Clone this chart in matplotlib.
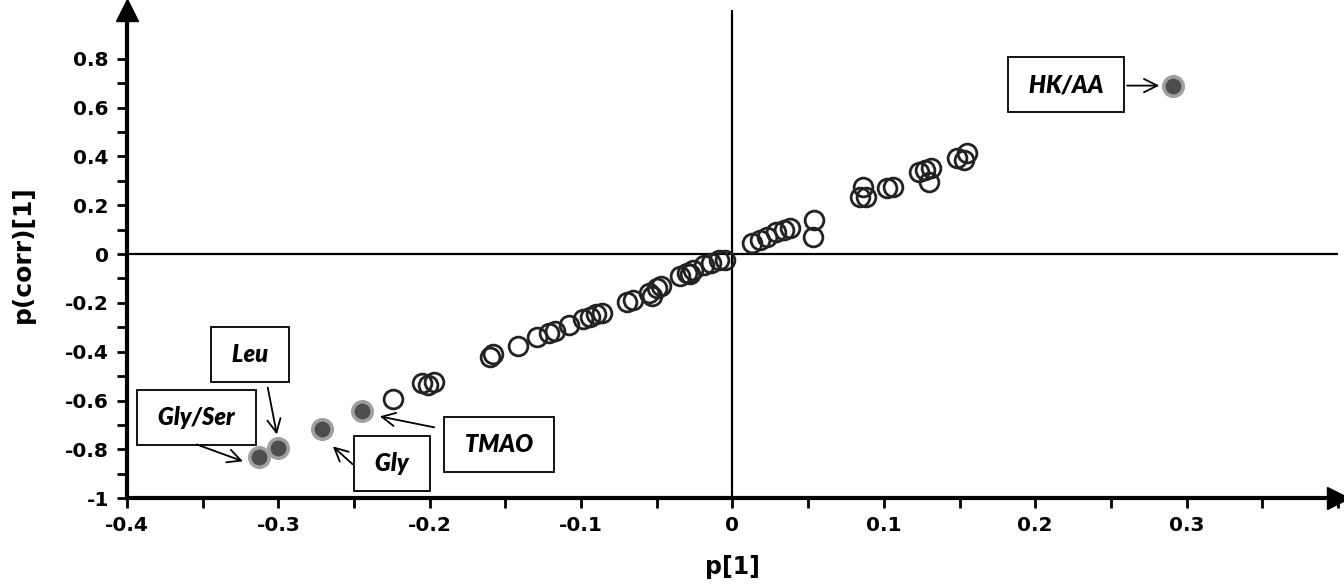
import matplotlib.pyplot as plt
from matplotlib.ticker import MultipleLocator, FuncFormatter

# open circles (all variables)
p1 = [-0.224, -0.205, -0.201, -0.197, -0.160, -0.158, -0.142, -0.129, -0.121, -0.117,
      -0.108, -0.099, -0.094, -0.090, -0.086, -0.070, -0.066, -0.055, -0.053, -0.050,
      -0.047, -0.035, -0.030, -0.028, -0.026, -0.019, -0.014, -0.009, -0.005,
      0.013, 0.018, 0.023, 0.029, 0.034, 0.038, 0.054, 0.053,
      0.084, 0.086, 0.088, 0.102, 0.106, 0.123, 0.127, 0.130, 0.131,
      0.148, 0.153, 0.155]
pcorr1 = [-0.592, -0.530, -0.535, -0.523, -0.420, -0.410, -0.376, -0.340, -0.322, -0.315,
          -0.290, -0.268, -0.257, -0.245, -0.240, -0.198, -0.188, -0.160, -0.170, -0.141,
          -0.132, -0.090, -0.077, -0.082, -0.066, -0.046, -0.036, -0.026, -0.024,
          0.045, 0.057, 0.069, 0.090, 0.098, 0.106, 0.139, 0.069,
          0.233, 0.273, 0.233, 0.269, 0.273, 0.335, 0.343, 0.294, 0.351,
          0.392, 0.384, 0.412]

# highlighted metabolites
names = ['HK/AA', 'TMAO', 'Gly', 'Leu', 'Gly/Ser']
hl_p1 = [0.291, -0.245, -0.271, -0.300, -0.313]
hl_pcorr = [0.690, -0.645, -0.718, -0.796, -0.833]

# label boxes and their arrows (start, end) in data coords
label_xy = [(0.2205, 0.694), (-0.154, -0.780), (-0.225, -0.857), (-0.319, -0.412), (-0.354, -0.669)]
arrow_from = [(0.2607, 0.690), (-0.197, -0.710), (-0.251, -0.861), (-0.307, -0.547), (-0.354, -0.780)]
arrow_to = [(0.282, 0.690), (-0.233, -0.665), (-0.264, -0.788), (-0.301, -0.739), (-0.3234, -0.849)]

fig = plt.figure(figsize=(13.44, 5.84), dpi=100)
ax = fig.add_axes([0.0945, 0.147, 0.901, 0.836])

ax.axhline(0, color='black', lw=1.6, zorder=1)
ax.axvline(0, color='black', lw=1.6, zorder=1)

ax.plot(p1, pcorr1, 'o', ms=13.5, mfc='none', mec='#222222', mew=2, zorder=3)
ax.plot(hl_p1, hl_pcorr, 'o', ms=14, mfc='#4d4d4d', mec='#a0a0a0', mew=2.6, zorder=4)

for name, txy in zip(names, label_xy):
    ax.text(txy[0], txy[1], ' ' + name + ' ', ha='center', va='center',
            fontsize=17, fontweight='heavy', fontstyle='italic', family='Lato',
            bbox=dict(boxstyle='square,pad=0.68', fc='white', ec='black', lw=1.3),
            zorder=5)
for a, b in zip(arrow_from, arrow_to):
    ax.annotate('', xy=b, xytext=a,
                arrowprops=dict(arrowstyle='->', color='black', lw=1.3,
                                mutation_scale=24, shrinkA=0, shrinkB=0),
                zorder=5)

ax.set_xlim(-0.4, 0.4)
ax.set_ylim(-1, 1.0)

for s in ['top', 'right']:
    ax.spines[s].set_visible(False)
for s in ['left', 'bottom']:
    ax.spines[s].set_linewidth(3)

# arrow heads on the axes
ax.plot(1, -1, '>', color='black', ms=16, transform=ax.get_yaxis_transform(), clip_on=False)
ax.plot(-0.4, 1, '^', color='black', ms=16, transform=ax.get_xaxis_transform(), clip_on=False)

ax.set_xticks([-0.4, -0.3, -0.2, -0.1, 0, 0.1, 0.2, 0.3])
ax.xaxis.set_minor_locator(MultipleLocator(0.05))
ax.set_yticks([-1, -0.8, -0.6, -0.4, -0.2, 0, 0.2, 0.4, 0.6, 0.8])
ax.set_yticks([-0.9, -0.7, -0.5, -0.3, -0.1, 0.1, 0.3, 0.5, 0.7], minor=True)
fmt = FuncFormatter(lambda v, pos: '%g' % round(v, 2))
ax.xaxis.set_major_formatter(fmt)
ax.yaxis.set_major_formatter(fmt)
ax.tick_params(which='both', width=2, length=7, labelsize=14.5, direction='out')
ax.tick_params(axis='x', pad=6)
ax.tick_params(axis='y', pad=6)
for lab in ax.get_xticklabels() + ax.get_yticklabels():
    lab.set_fontweight('bold')

ax.set_xlabel('p[1]', fontsize=17, fontweight='bold', labelpad=14)
ax.set_ylabel('p(corr)[1]', fontsize=18, fontweight='bold', labelpad=22)

plt.savefig('out.png')
